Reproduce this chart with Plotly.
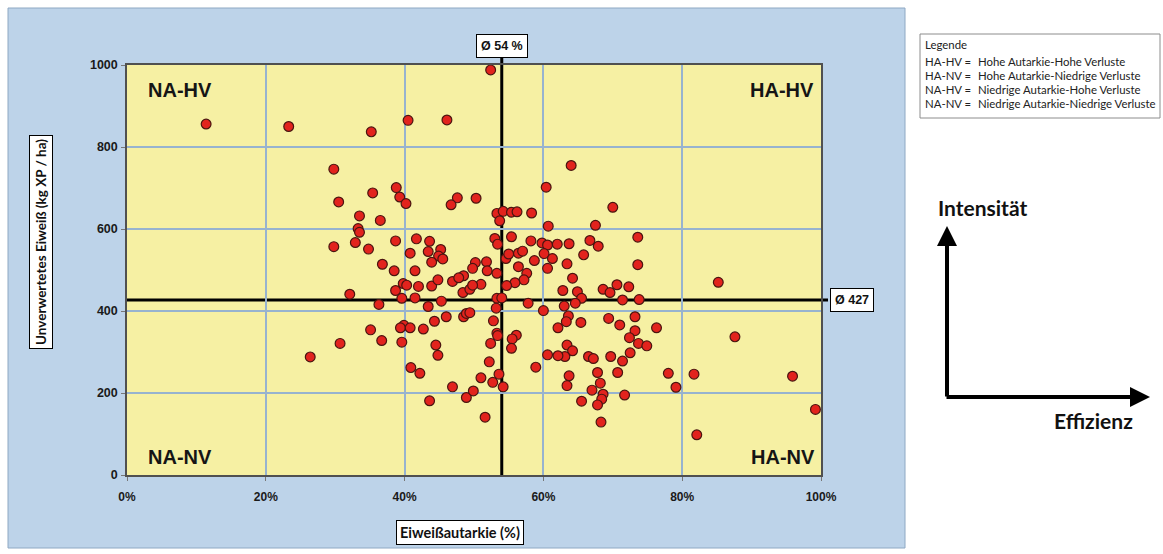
import plotly.graph_objects as go

# ---------------- data ----------------
autarkie_pct = [
    11.4, 23.3, 35.2, 40.5, 46.1, 29.8, 38.8, 35.4, 30.5, 39.3, 40.2, 47.6, 46.7, 33.5, 36.5, 33.3,
    33.5, 29.8, 32.9, 34.8, 38.7, 41.7, 43.6, 40.8, 43.4, 45.2, 44.9, 45.5, 43.9, 36.8, 38.5, 41.5,
    50.3, 53.3, 54.2, 53.7, 50.2, 51.8, 53.0, 53.4, 54.6, 52.4, 64.0, 60.4, 55.4, 56.2, 58.3, 70.0,
    60.7, 67.5, 73.6, 55.4, 58.2, 59.8, 60.6, 62.0, 63.7, 66.7, 67.9, 65.8, 55.0, 56.4, 57.0, 60.1,
    61.3, 58.7, 63.4, 73.6, 56.4, 60.6,
    32.1, 38.7, 39.8, 40.3, 42.0, 43.9, 44.8, 46.9, 48.5, 48.4, 36.3, 39.6, 41.5, 43.4, 45.3, 48.5,
    48.9, 46.0, 44.3, 42.7, 39.9, 39.4, 40.8, 35.1, 30.7, 36.7, 39.6, 44.5, 44.8, 26.4, 40.9, 42.2,
    46.9, 43.6, 48.9, 51.9, 53.3, 47.8, 49.4, 51.0, 49.8, 53.3, 54.0, 53.2, 49.4, 52.8, 53.3, 53.4,
    52.4,
    85.2, 57.6, 57.2, 55.9, 54.7, 64.2, 62.8, 64.9, 65.5, 64.6, 63.0, 60.0, 57.8, 68.6, 69.6, 70.6,
    72.3, 71.4, 73.8, 63.6, 63.3, 62.1, 65.4, 69.4, 71.0, 73.2, 76.3, 73.2, 72.4, 73.7, 74.9, 87.6,
    56.1, 55.5, 55.4, 63.4, 64.2, 63.1, 62.1, 60.6, 66.5, 67.2, 69.7, 72.5, 71.4, 70.7, 67.8, 63.7,
    63.4, 68.2, 67.0, 68.6, 68.4, 67.8, 65.5, 71.7, 68.3, 78.0, 81.7, 79.1, 95.9, 99.2, 82.1, 58.9,
    53.6, 54.2, 52.7, 51.0, 52.2, 49.9, 51.6, 49.8,
]
eiweiss_kg = [
    856, 850, 837, 865, 866, 746, 701, 688, 666, 678, 662, 676, 659, 632, 621, 601,
    592, 557, 567, 551, 571, 576, 570, 541, 545, 550, 534, 527, 519, 514, 498, 498,
    675, 638, 643, 620, 518, 520, 577, 563, 528, 988, 755, 702, 641, 642, 639, 653,
    607, 609, 580, 581, 571, 566, 561, 563, 564, 572, 558, 537, 539, 541, 546, 540,
    528, 523, 515, 513, 508, 504,
    441, 450, 467, 463, 460, 461, 476, 472, 486, 445, 416, 431, 432, 411, 424, 386,
    394, 386, 375, 356, 365, 359, 359, 354, 321, 328, 324, 317, 292, 288, 262, 248,
    215, 181, 189, 498, 492, 481, 453, 465, 463, 431, 432, 407, 396, 376, 346, 340,
    321,
    470, 492, 476, 469, 462, 480, 450, 447, 431, 419, 412, 401, 419, 453, 445, 464,
    459, 427, 428, 388, 374, 359, 372, 382, 366, 386, 359, 352, 335, 321, 315, 337,
    341, 332, 309, 317, 303, 289, 291, 293, 289, 284, 289, 298, 278, 250, 250, 242,
    218, 224, 207, 197, 185, 171, 180, 195, 129, 248, 246, 214, 241, 160, 98, 263,
    246, 215, 226, 237, 276, 205, 141, 504,
]
mean_autarkie = 54
mean_eiweiss = 427
x_tick_vals = [0, 20, 40, 60, 80, 100]
x_tick_text = ["0%", "20%", "40%", "60%", "80%", "100%"]
y_tick_vals = [0, 200, 400, 600, 800, 1000]
quadrant_labels = ["NA-HV", "HA-HV", "NA-NV", "HA-NV"]
legend_codes = ["HA-HV =", "HA-NV =", "NA-HV =", "NA-NV ="]
legend_texts = ["Hohe Autarkie-Hohe Verluste", "Hohe Autarkie-Niedrige Verluste",
                "Niedrige Autarkie-Hohe Verluste", "Niedrige Autarkie-Niedrige Verluste"]

# ---------------- layout geometry ----------------
W, H = 1163, 554
L, R, T, B = 127, 821, 65, 475


def px(xp):
    return (xp - L) / (R - L)


def py(yp):
    return (B - yp) / (B - T)


SANS = "Liberation Sans, Arial, sans-serif"
CAL = "Lato, Open Sans, sans-serif"

fig = go.Figure()
fig.add_trace(go.Scatter(
    x=autarkie_pct, y=eiweiss_kg, mode="markers",
    marker=dict(size=9.8, color="#e2231d", line=dict(color="#4a1510", width=1.2)),
    showlegend=False, hoverinfo="x+y", cliponaxis=False,
))

shapes = [
    # blue chart panel
    dict(type="rect", xref="paper", yref="paper", x0=px(8), x1=px(905), y0=py(548), y1=py(8),
         fillcolor="#bdd3e9", line=dict(color="#8ea8c3", width=1), layer="below"),
    # yellow plot area
    dict(type="rect", xref="paper", yref="paper", x0=0, x1=1, y0=0, y1=1,
         fillcolor="#f6f0a3", line=dict(width=0), layer="below"),
    # mean lines
    dict(type="line", xref="x", yref="paper", x0=mean_autarkie, x1=mean_autarkie, y0=0, y1=py(57),
         line=dict(color="black", width=3), layer="below"),
    dict(type="line", xref="paper", yref="y", x0=0, x1=px(828), y0=mean_eiweiss, y1=mean_eiweiss,
         line=dict(color="black", width=3), layer="below"),
    # legend box
    dict(type="rect", xref="paper", yref="paper", x0=px(920), x1=px(1160), y0=py(118), y1=py(34),
         fillcolor="white", line=dict(color="#8c8c8c", width=1), layer="below"),
]

ann = []


def add(**kw):
    kw.setdefault("xanchor", "center")
    kw.setdefault("yanchor", "middle")
    kw.setdefault("showarrow", False)
    ann.append(kw)


# mean labels
add(xref="x", yref="paper", x=mean_autarkie, y=py(46), text=f"<b>Ø {mean_autarkie} %</b>",
    bgcolor="white", bordercolor="black", borderwidth=1, borderpad=4,
    font=dict(family=SANS, size=12.5, color="#111"))
add(xref="paper", yref="y", x=px(852), y=mean_eiweiss, text=f"<b>Ø {mean_eiweiss}</b>",
    bgcolor="white", bordercolor="black", borderwidth=1, borderpad=4,
    font=dict(family=SANS, size=12.5, color="#111"))
# quadrant labels
qpos = [(180, 90), (782, 90), (180, 457), (783, 457)]
for lab, (qx, qy) in zip(quadrant_labels, qpos):
    add(xref="paper", yref="paper", x=px(qx), y=py(qy), text=f"<b>{lab}</b>",
        font=dict(family=SANS, size=20, color="#151515"))
# axis titles (boxed)
add(xref="paper", yref="paper", x=px(460), y=py(532), text="<b>Eiweißautarkie (%)</b>",
    bgcolor="white", bordercolor="black", borderwidth=1, borderpad=3,
    font=dict(family=CAL, size=14.5, color="#111"))
add(xref="paper", yref="paper", x=px(41), y=py(242), text="<b>Unverwertetes Eiweiß (kg XP / ha)</b>",
    textangle=-90, bgcolor="white", bordercolor="black", borderwidth=1,
    borderpad=3, font=dict(family=CAL, size=13.5, color="#111"))
# legend lines
add(xref="paper", yref="paper", x=px(923), y=py(45), text="Legende", xanchor="left",
    font=dict(family=CAL, size=11.4, color="#222"))
for i, (c, t) in enumerate(zip(legend_codes, legend_texts)):
    yy = py(61 + 14.2 * i)
    add(xref="paper", yref="paper", x=px(923), y=yy, text=c, xanchor="left",
        font=dict(family=CAL, size=11.4, color="#222"))
    add(xref="paper", yref="paper", x=px(976), y=yy, text=t, xanchor="left",
        font=dict(family=CAL, size=11.4, color="#222"))
# direction arrows
add(xref="paper", yref="paper", x=px(947), y=py(226), ax=0, ay=172, axref="pixel", ayref="pixel",
    text="", showarrow=True, arrowhead=2, arrowsize=1, arrowwidth=4, arrowcolor="black", standoff=0)
add(xref="paper", yref="paper", x=px(1150), y=py(397), ax=-205, ay=0, axref="pixel", ayref="pixel",
    text="", showarrow=True, arrowhead=2, arrowsize=1, arrowwidth=4, arrowcolor="black", standoff=0)
add(xref="paper", yref="paper", x=px(982), y=py(207), text="<b>Intensität</b>",
    font=dict(family=CAL, size=21, color="#111"))
add(xref="paper", yref="paper", x=px(1093), y=py(420), text="<b>Effizienz</b>",
    font=dict(family=CAL, size=21, color="#111"))

fig.update_layout(
    width=W, height=H,
    margin=dict(l=L, r=W - R, t=T, b=H - B, pad=0),
    paper_bgcolor="white", plot_bgcolor="rgba(0,0,0,0)",
    shapes=shapes, annotations=ann, showlegend=False,
    xaxis=dict(range=[0, 100], tickvals=x_tick_vals, ticktext=x_tick_text, showgrid=True,
               gridcolor="#97b3cf", gridwidth=1.5, zeroline=False, showline=True, mirror=True,
               linecolor="#505050", linewidth=1.5, ticks="outside", ticklen=4, tickcolor="#777",
               ticklabelstandoff=6,
               tickfont=dict(family=SANS, size=12, color="#1a1a1a", weight="bold"), fixedrange=True),
    yaxis=dict(range=[0, 1000], tickvals=y_tick_vals, showgrid=True,
               gridcolor="#97b3cf", gridwidth=1.5, zeroline=False, showline=True, mirror=True,
               linecolor="#505050", linewidth=1.5, ticks="outside", ticklen=4, tickcolor="#777",
               ticklabelstandoff=1,
               tickfont=dict(family=SANS, size=12.5, color="#1a1a1a", weight="bold"), fixedrange=True),
)

fig.write_html("out.html", config={"displayModeBar": False, "responsive": False},
               post_script="document.body.style.margin='0';")
